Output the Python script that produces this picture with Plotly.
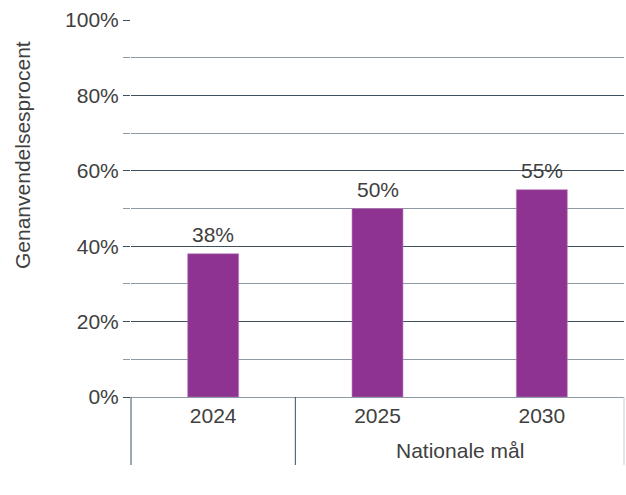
import plotly.graph_objects as go

categories = ["2024", "2025", "2030"]
values = [38, 50, 55]
labels = ["38%", "50%", "55%"]
group_label = "Nationale mål"
y_title = "Genanvendelsesprocent"
y_ticks = [0, 20, 40, 60, 80, 100]
y_ticktext = ["0%", "20%", "40%", "60%", "80%", "100%"]

FONT = "Liberation Sans"
FS = 21
TXT = "#404040"
BAR = "#8e3391"
DARK = "#3e4f5e"
LIGHT = "#8d99a3"

W, H = 626, 495
L, R, T, B = 131, 2, 20, 98
pw = W - L - R
ph = H - T - B

fig = go.Figure()
fig.add_trace(go.Bar(
    x=categories, y=values, width=0.31,
    marker=dict(color=BAR, line=dict(color="#b77fb9", width=0.6)),
    hoverinfo="skip",
))

annotations = []
for i, (v, lab) in enumerate(zip(values, labels)):
    annotations.append(dict(x=i, y=v, xref="x", yref="y", text=lab, showarrow=False,
                            yanchor="bottom", yshift=6,
                            font=dict(family=FONT, size=FS, color=TXT)))
annotations.append(dict(xref="paper", yref="paper", x=2/3, y=(397 - 450) / ph,
                        text=group_label, showarrow=False, yanchor="middle",
                        font=dict(family=FONT, size=FS, color=TXT)))
annotations.append(dict(xref="paper", yref="paper", x=(22 - L) / pw, y=(397 - 155) / ph,
                        text=y_title, textangle=-90, showarrow=False,
                        xanchor="center", yanchor="middle",
                        font=dict(family=FONT, size=FS, color=TXT)))

sep_bottom = -(465 - 397) / ph
shapes = [
    dict(type="line", xref="paper", yref="paper", x0=0, x1=0, y0=0, y1=sep_bottom,
         line=dict(color=DARK, width=1)),
    dict(type="line", xref="paper", yref="paper", x0=1/3, x1=1/3, y0=0, y1=sep_bottom,
         line=dict(color=DARK, width=1)),
    dict(type="line", xref="paper", yref="paper", x0=1, x1=1, y0=0, y1=sep_bottom,
         line=dict(color="#c8cdd2", width=1)),
]

fig.update_layout(
    width=W, height=H,
    margin=dict(l=L, r=R, t=T, b=B, autoexpand=False),
    paper_bgcolor="white", plot_bgcolor="white",
    showlegend=False,
    annotations=annotations,
    shapes=shapes,
    font=dict(family=FONT, size=FS, color=TXT),
)
fig.update_xaxes(
    type="category", showgrid=False, zeroline=False,
    showline=True, linecolor=LIGHT, linewidth=1,
    ticks="",
    tickfont=dict(family=FONT, size=FS, color=TXT),
    automargin=False,
)
fig.update_yaxes(
    range=[0, 100], tickvals=y_ticks, ticktext=y_ticktext,
    showgrid=True, gridcolor=DARK, gridwidth=1,
    zeroline=False, showline=False,
    ticks="outside", ticklen=7, tickcolor=DARK, tickwidth=1,
    tickfont=dict(family=FONT, size=FS, color=TXT),
    automargin=False,
    minor=dict(dtick=10, showgrid=True, gridcolor=LIGHT, gridwidth=1,
               ticks="outside", ticklen=7, tickcolor=LIGHT),
)

fig.write_html("out.html", config={"displayModeBar": False},
               post_script="document.body.style.margin='0px';")
